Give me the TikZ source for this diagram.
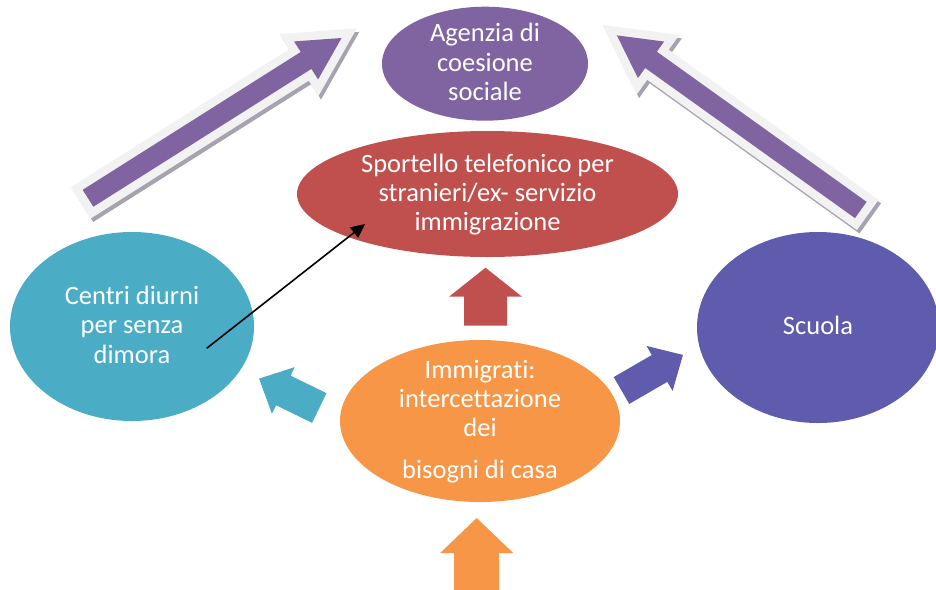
\documentclass[tikz,border=0pt]{standalone}
\usepackage{fontspec}
\setmainfont{Carlito}[Ligatures={NoCommon,NoRare,NoContextual}]
\usetikzlibrary{shapes.geometric,arrows.meta}
\definecolor{cPurple}{HTML}{8064A2}
\definecolor{cRed}{HTML}{C0504D}
\definecolor{cTeal}{HTML}{4BACC6}
\definecolor{cIndigo}{HTML}{5F5BAD}
\definecolor{cOrange}{HTML}{F79646}
\definecolor{cEdge}{HTML}{F2F2F2}
\definecolor{cShadow}{HTML}{A6A2B0}
\newcommand\lstrut{\rule[-0.26em]{0pt}{1.08em}}
\def\bigArrowPath{(0,-10) -- (258,-10) -- (258,-22.5) -- (300,0) -- (258,22.5) -- (258,10) -- (0,10) -- cycle}
\def\tealArrowPath{(0,-16.5) -- (40,-16.5) -- (40,-26) -- (67,0) -- (40,26) -- (40,16.5) -- (0,16.5) -- cycle}
\def\blueArrowPath{(0,-15.5) -- (44,-15.5) -- (44,-26) -- (71,0) -- (44,26) -- (44,15.5) -- (0,15.5) -- cycle}
\begin{document}
\begin{tikzpicture}[x=1pt,y=-1pt,
  blob/.style={ellipse, inner sep=0pt, draw=none},
  txt/.style={inner sep=0pt, align=center, text=white, font=\fontsize{26.5}{29.3}\selectfont},
  edgeline/.style={line width=17pt, line join=miter}]
\useasboundingbox (0,0) rectangle (936,589);
\clip (0,0) rectangle (936,589);

% big left arrow
\begin{scope}[shift={(90.5,201.8)}, rotate=32.3]
  \filldraw[cShadow, edgeline] \bigArrowPath;
\end{scope}
\begin{scope}[shift={(88,198.3)}, rotate=32.3]
  \filldraw[cEdge, edgeline] \bigArrowPath;
  \fill[cPurple] \bigArrowPath;
\end{scope}
% big right arrow
\begin{scope}[shift={(863.3,213.5)}, rotate=144.4]
  \filldraw[cShadow, edgeline] \bigArrowPath;
\end{scope}
\begin{scope}[shift={(860.8,210)}, rotate=144.4]
  \filldraw[cEdge, edgeline] \bigArrowPath;
  \fill[cPurple] \bigArrowPath;
\end{scope}

% ellipses
\node[blob, fill=cPurple, minimum width=206pt, minimum height=114pt] (agency) at (485,63.7) {};
\node[blob, fill=cRed, minimum width=381pt, minimum height=126pt] (desk) at (487.5,194) {};
\node[blob, fill=cTeal, minimum width=244pt, minimum height=189pt] (centri) at (132,326.5) {};
\node[blob, fill=cIndigo, minimum width=242pt, minimum height=191pt] (scuola) at (818,327.5) {};
\node[blob, fill=cOrange, minimum width=280pt, minimum height=162pt] (immi) at (480,421) {};

% texts
\node[txt] (agency-t) at (agency.center) {\lstrut Agenzia di\\\lstrut coesione\\\lstrut sociale};
\node[txt] (desk-t) at (desk.center) {\lstrut Sportello telefonico per\\\lstrut stranieri/ex- servizio\\\lstrut immigrazione};
\node[txt] (centri-t) at (centri.center) {\lstrut Centri diurni\\\lstrut per senza\\\lstrut dimora};
\node[txt] (scuola-t) at (scuola.center) {\lstrut Scuola};
\node[txt] (immi-t) at (immi.center) {\lstrut Immigrati:\\\lstrut intercettazione\\\lstrut dei\\[12.4pt]\lstrut bisogni di casa};

% small block arrows
\fill[cRed] (464,325.7) -- (464,296.7) -- (449,296.7) -- (485.5,267.7) -- (522,296.7) -- (507,296.7) -- (507,325.7) -- cycle;
\fill[cOrange] (454.2,600) -- (454.2,553) -- (440.2,553) -- (476.7,518) -- (513.2,553) -- (499.2,553) -- (499.2,600) -- cycle;
\begin{scope}[shift={(319.3,408)}, rotate=154]
  \fill[cTeal] \tealArrowPath;
\end{scope}
\begin{scope}[shift={(621.5,390.5)}, rotate=30.1]
  \fill[cIndigo] \blueArrowPath;
\end{scope}

% thin connector
\coordinate (cstart) at (206.7,348.3);
\coordinate (cend) at (365,224);
\draw[line width=1.6pt, -{Triangle[length=14pt,width=13pt]}] (cstart) -- (cend);
\end{tikzpicture}
\end{document}
